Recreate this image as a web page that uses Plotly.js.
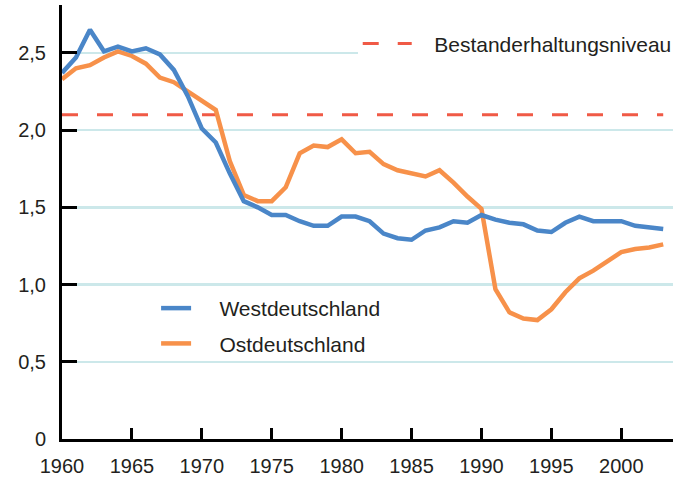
<!DOCTYPE html>
<html>
<head>
<meta charset="utf-8">
<script src="https://cdn.plot.ly/plotly-3.0.1.min.js"></script>
<style>html,body{margin:0;padding:0;background:#fff;}#chart{width:688px;height:479px;}</style>
</head>
<body>
<div id="chart"></div>
<script>
const years = [1960,1961,1962,1963,1964,1965,1966,1967,1968,1969,1970,1971,1972,1973,1974,1975,1976,1977,1978,1979,1980,1981,1982,1983,1984,1985,1986,1987,1988,1989,1990,1991,1992,1993,1994,1995,1996,1997,1998,1999,2000,2001,2002,2003];
const west = [2.37,2.47,2.65,2.51,2.54,2.51,2.53,2.49,2.39,2.22,2.01,1.92,1.72,1.54,1.50,1.45,1.45,1.41,1.38,1.38,1.44,1.44,1.41,1.33,1.30,1.29,1.35,1.37,1.41,1.40,1.45,1.42,1.40,1.39,1.35,1.34,1.40,1.44,1.41,1.41,1.41,1.38,1.37,1.36];
const east = [2.33,2.40,2.42,2.47,2.51,2.48,2.43,2.34,2.31,2.25,2.19,2.13,1.80,1.58,1.54,1.54,1.63,1.85,1.90,1.89,1.94,1.85,1.86,1.78,1.74,1.72,1.70,1.74,1.66,1.57,1.49,0.97,0.82,0.78,0.77,0.84,0.95,1.04,1.09,1.15,1.21,1.23,1.24,1.26];
const replacementLevel = 2.1;
const seriesNames = ['Westdeutschland','Ostdeutschland','Bestanderhaltungsniveau'];
const xTickVals = [1960,1965,1970,1975,1980,1985,1990,1995,2000];
const xTickText = ['1960','1965','1970','1975','1980','1985','1990','1995','2000'];
const yTickVals = [0,0.5,1,1.5,2,2.5];
const yTickText = ['0','0,5','1,0','1,5','2,0','2,5'];

const FONT = 'Liberation Sans, Arial, Helvetica, sans-serif';
const pad = n => '\u00a0'.repeat(n);

const traces = [
  {
    x: [years[0], years[years.length-1]],
    y: [replacementLevel, replacementLevel],
    type: 'scatter', mode: 'lines',
    name: pad(3) + seriesNames[2],
    line: {color: '#f05a46', width: 3, dash: '16px,19px'},
    legend: 'legend2',
    hoverinfo: 'skip'
  },
  {
    x: years, y: east, type: 'scatter', mode: 'lines',
    name: pad(4) + seriesNames[1],
    line: {color: '#f7914a', width: 4.5},
    legendgroup: 'east',
    legendrank: 2
  },
  {
    x: years, y: west, type: 'scatter', mode: 'lines',
    name: pad(4) + seriesNames[0],
    line: {color: '#4a86c8', width: 4.5},
    legendgroup: 'west',
    legendrank: 1
  }
];

const layout = {
  width: 688, height: 479,
  margin: {l: 62, r: 15, t: 5, b: 40, pad: 0},
  paper_bgcolor: '#ffffff', plot_bgcolor: '#ffffff',
  font: {family: FONT, size: 20, color: '#231f20'},
  separators: ',.',
  showlegend: true,
  hovermode: false,
  xaxis: {
    range: [1960, 2003.7],
    tickmode: 'array', tickvals: xTickVals, ticktext: xTickText,
    ticks: 'inside', ticklen: 11, tickwidth: 3, tickcolor: '#000',
    showline: true, linewidth: 3, linecolor: '#000',
    showgrid: false, zeroline: false,
    ticklabelstandoff: 7,
    tickfont: {family: FONT, size: 20, color: '#231f20'}
  },
  yaxis: {
    range: [0, 2.81],
    tickmode: 'array', tickvals: yTickVals, ticktext: yTickText,
    ticks: 'inside', ticklen: 15, tickwidth: 3, tickcolor: '#000',
    showline: true, linewidth: 3, linecolor: '#000',
    showgrid: true, gridcolor: '#cce8ea', gridwidth: 2.5,
    zeroline: false,
    ticklabelstandoff: 9,
    tickfont: {family: FONT, size: 20, color: '#231f20'}
  },
  legend: {
    x: 0.154, y: 0.348, xanchor: 'left', yanchor: 'top',
    bgcolor: 'rgba(0,0,0,0)', borderwidth: 0,
    font: {family: FONT, size: 21, color: '#231f20'},
    traceorder: 'grouped', tracegroupgap: 5, itemwidth: 30
  },
  legend2: {
    x: 0.484, y: 0.958, xanchor: 'left', yanchor: 'top',
    bgcolor: '#ffffff', borderwidth: 0,
    font: {family: FONT, size: 21, color: '#231f20'},
    itemwidth: 49
  }
};

Plotly.newPlot('chart', traces, layout, {staticPlot: true, displayModeBar: false});
</script>
</body>
</html>
